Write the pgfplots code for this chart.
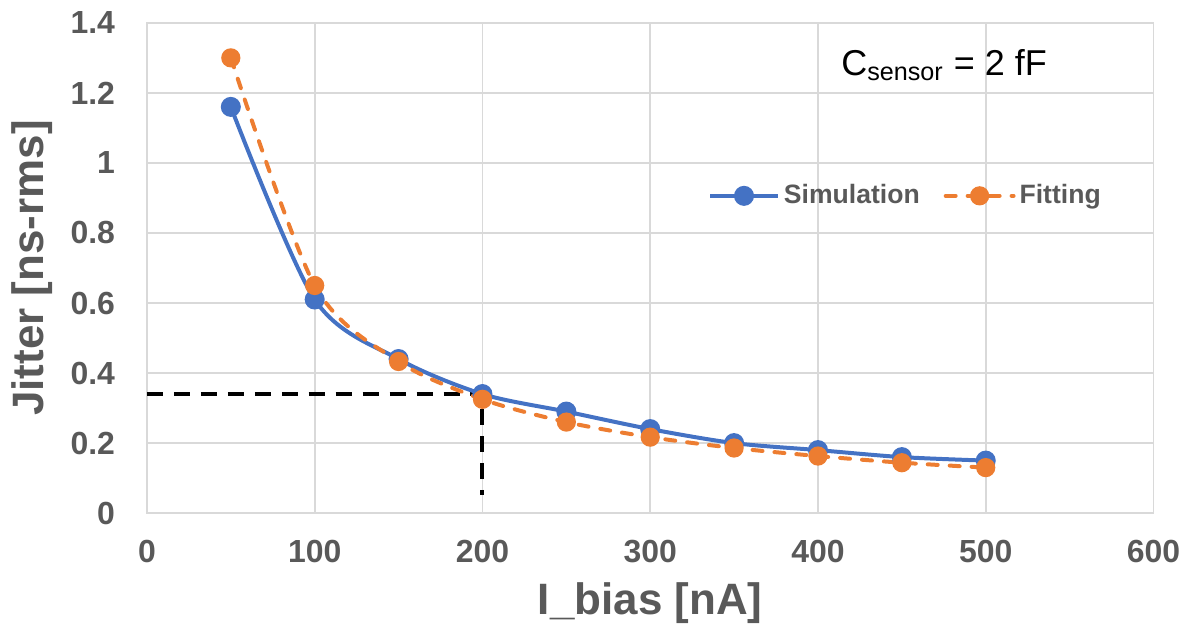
\documentclass[border={2.6pt 0pt 2.6pt 2.6pt}]{standalone}
\usepackage{fontspec}
\setmainfont{Liberation Sans}
\usepackage{pgfplots}
\pgfplotsset{compat=1.18}

\definecolor{simblue}{RGB}{68,114,196}
\definecolor{fitorange}{RGB}{237,125,49}
\definecolor{gridgray}{RGB}{217,217,217}
\definecolor{textgray}{RGB}{89,89,89}

\begin{document}
\begin{tikzpicture}
\begin{axis}[
  scale only axis,
  width=504pt, height=245.5pt,
  xmin=0, xmax=600, ymin=0, ymax=1.4,
  xtick={0,100,...,600},
  ytick={0,0.2,...,1.4},
  yticklabels={0,0.2,0.4,0.6,0.8,1,1.2,1.4},
  xmajorgrids, ymajorgrids,
  grid style={gridgray, line width=0.8pt},
  axis line style={gridgray, line width=0.8pt},
  tick style={draw=none},
  /pgf/number format/assume math mode=true,
  ticklabel style={font=\fontsize{16}{18}\selectfont\bfseries, text=textgray},
  xticklabel style={yshift=-10pt},
  yticklabel style={xshift=-12.5pt},
  xlabel={I\_bias [nA]},
  ylabel={Jitter [ns-rms]},
  label style={font=\fontsize{22}{25}\selectfont\bfseries, text=textgray},
  xlabel style={yshift=-3pt},
  ylabel style={yshift=2pt},
  legend style={at={(axis cs:452.7,0.906)}, anchor=center, draw=none, fill=none,
    font=\fontsize{13.3}{15}\selectfont\bfseries, text=textgray,
    legend columns=2, /tikz/every even column/.append style={column sep=10pt}},
  legend image code/.code={
    \draw[mark repeat=2, mark phase=2, #1]
      plot coordinates {(0pt,0pt) (17pt,0pt) (34pt,0pt)};},
]
\addplot [black, line width=2pt, dash pattern=on 8pt off 5.5pt, forget plot]
  coordinates {(0,0.34) (200,0.34) (200,0.051)};
\addplot [simblue, line width=2pt, smooth, mark=*, mark size=4pt,
  mark options={solid, fill=simblue}]
  coordinates {
  (50,1.16) (100,0.61) (150,0.44) (200,0.34) (250,0.29)
  (300,0.24) (350,0.20) (400,0.18) (450,0.16) (500,0.15)};
\addlegendentry{Simulation}
\addplot [fitorange, line width=2pt, smooth, line cap=round,
  dash pattern=on 5pt off 6pt,
  mark=*, mark size=3.8pt, mark options={solid, fill=fitorange}]
  coordinates {
  (50,1.30) (100,0.65) (150,0.433) (200,0.325) (250,0.26)
  (300,0.217) (350,0.186) (400,0.163) (450,0.144) (500,0.13)};
\addlegendentry{Fitting}
\node[font=\fontsize{18}{21}\selectfont, anchor=base west, inner sep=0pt]
  at (axis cs:413.7,1.249) {C\textsubscript{sensor} = 2 fF};
\end{axis}
\end{tikzpicture}
\end{document}
